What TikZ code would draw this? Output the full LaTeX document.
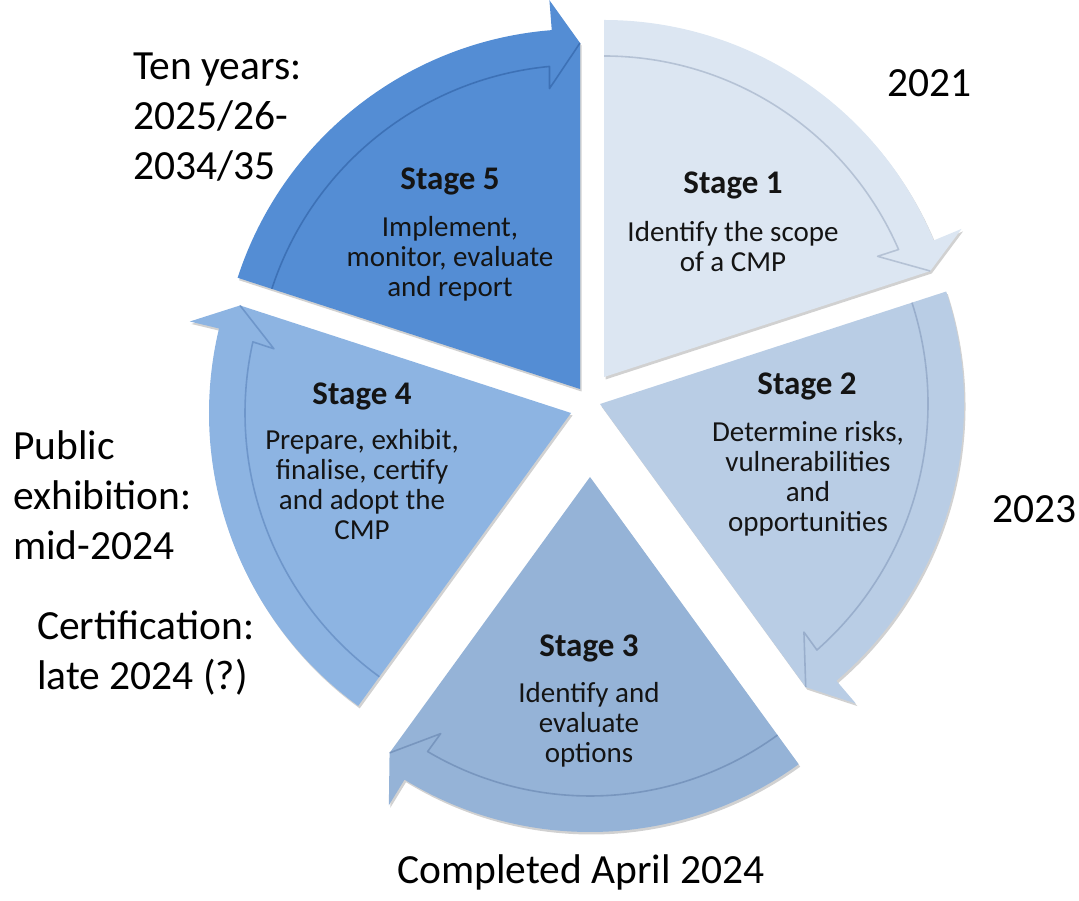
\documentclass[tikz,border=0pt]{standalone}
\usepackage{fontspec}
\setmainfont{Carlito}
\usetikzlibrary{calc,shadows}
\definecolor{sa}{RGB}{220,230,242}
\definecolor{sal}{RGB}{165,180,202}
\definecolor{sb}{RGB}{185,205,229}
\definecolor{sbl}{RGB}{140,162,194}
\definecolor{sc}{RGB}{149,179,215}
\definecolor{scl}{RGB}{108,138,180}
\definecolor{sd}{RGB}{141,180,226}
\definecolor{sdl}{RGB}{98,138,192}
\definecolor{se}{RGB}{84,141,212}
\definecolor{sel}{RGB}{52,102,170}
\definecolor{txt}{RGB}{20,20,20}
\newcommand\cmpwedge[6]{%
  \pgfmathsetmacro\wob{#3+4.5}%
  \pgfmathsetmacro\wib{#3+5.8}%
  \pgfmathsetmacro\wsi{#3+5.4}%
  \pgfmathsetmacro\Rout{#4+30}%
  \pgfmathsetmacro\Rtip{#4-14}%
  \pgfmathsetmacro\Rin{#4-36}%
  \pgfmathsetmacro\Rib{#4-58}%
  \fill[#5, wshadow] (#1) -- ($(#1)+(#2:#4)$) arc[start angle=#2, end angle=\wob, radius=#4]
     -- ($(#1)+(\wob:\Rout)$) -- ($(#1)+(#3:\Rtip)$) -- cycle;
  \draw[#6, shaftline] ($(#1)+(#2:\Rin)$) arc[start angle=#2, end angle=\wsi, radius=\Rin]
     -- ($(#1)+(\wib:\Rib)$) -- ($(#1)+(#3:\Rtip)$);
}
\begin{document}
\begin{tikzpicture}[x=1pt,y=1pt,
  wshadow/.style={drop shadow={shadow xshift=1.5pt, shadow yshift=-2.5pt, opacity=0.18, fill=black}},
  shaftline/.style={line width=1.6pt, opacity=0.7, line join=round},
  title/.style={font=\fontsize{33}{35}\selectfont\bfseries, text=txt, anchor=base, inner sep=0pt},
  body/.style={font=\fontsize{29}{30}\selectfont, text=txt, align=center, anchor=base, inner sep=0pt},
  outer/.style={font=\fontsize{41.5}{50}\selectfont, text=black, align=left, anchor=base west, inner sep=0pt}]
\useasboundingbox (0,0) rectangle (1079,900);
\coordinate (A1) at (604,523);
\coordinate (A2) at (600,496);
\coordinate (A3) at (590,423);
\coordinate (A4) at (571,487);
\coordinate (A5) at (580,511);
\cmpwedge{A1}{90}{18}{357}{sa}{sal}
\cmpwedge{A2}{18}{-54}{364}{sb}{sbl}
\cmpwedge{A3}{-54}{-126}{355}{sc}{scl}
\cmpwedge{A4}{-126}{-198}{362}{sd}{sdl}
\cmpwedge{A5}{162}{90}{360}{se}{sel}
% stage texts (body nodes: base = last line)
\node[title] (t1) at (733,706) {Stage 1};
\node[body] (b1) at (733,628) {Identify the scope\\of a CMP};
\node[title] (t2) at (807,505) {Stage 2};
\node[body] (b2) at (808,368) {Determine risks,\\vulnerabilities\\and\\opportunities};
\node[title] (t3) at (589,243) {Stage 3};
\node[body] (b3) at (589,137) {Identify and\\evaluate\\options};
\node[title] (t4) at (362,495) {Stage 4};
\node[body] (b4) at (362,360) {Prepare, exhibit,\\finalise, certify\\and adopt the\\CMP};
\node[title] (t5) at (450,710) {Stage 5};
\node[body] (b5) at (450,603) {Implement,\\monitor, evaluate\\and report};
% outer labels
\node[outer] (l5) at (133,720) {Ten years:\\2025/26-\\2034/35};
\node[outer] (l1) at (887,803) {2021};
\node[outer] (l2) at (992,377) {2023};
\node[outer] (l4) at (13,340) {Public\\exhibition:\\mid-2024};
\node[outer] (l4b) at (37,210) {Certification:\\late 2024 (?)};
\node[outer, anchor=base] (l3) at (581,17) {Completed April 2024};
\end{tikzpicture}
\end{document}
